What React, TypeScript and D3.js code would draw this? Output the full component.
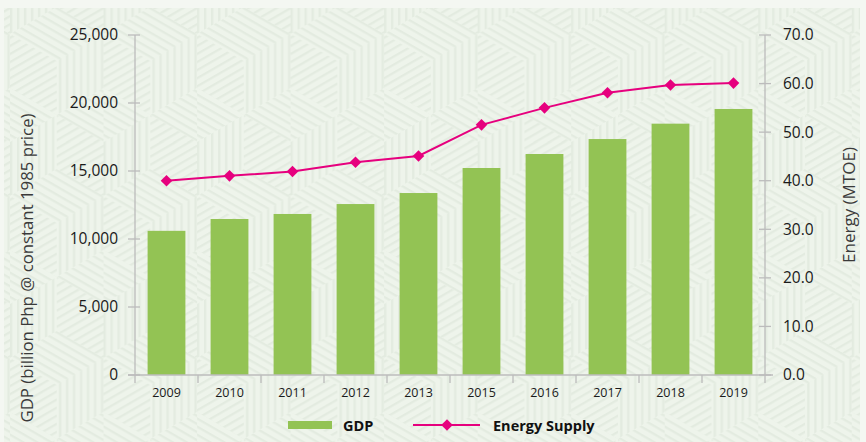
import React, { useRef, useEffect } from "react";
import * as d3 from "d3";

const years = ["2009", "2010", "2011", "2012", "2013", "2015", "2016", "2017", "2018", "2019"];
const gdp = [10600, 11470, 11840, 12570, 13380, 15220, 16250, 17350, 18480, 19560];
const energy = [40.0, 41.0, 41.9, 43.8, 45.1, 51.5, 55.0, 58.1, 59.7, 60.1];
const gdpTicks = [0, 5000, 10000, 15000, 20000, 25000];
const energyTicks = [0, 10, 20, 30, 40, 50, 60, 70];

const W = 866;
const H = 442;
const FONT = "'Open Sans', 'Noto Sans', sans-serif";
const BAR = "#93c354";
const LINE = "#e6007e";
const AXIS = "#bcbcbc";

const App: React.FC = () => {
  const svgRef = useRef<SVGSVGElement | null>(null);

  useEffect(() => {
    if (!svgRef.current) return;
    document.body.style.margin = "0";

    const margin = { left: 135, right: W - 765, top: 35, bottom: H - 375 };
    const x = d3.scaleBand<string>().domain(years).range([margin.left, W - margin.right]).paddingInner(0.4).paddingOuter(0.2);
    const yL = d3.scaleLinear().domain([0, 25000]).range([H - margin.bottom, margin.top]);
    const yR = d3.scaleLinear().domain([0, 70]).range([H - margin.bottom, margin.top]);

    const svg = d3.select(svgRef.current);
    svg.selectAll("*").remove();

    // background + tumbling blocks pattern
    const defs = svg.append("defs");
    const stripe = (id: string, angle: number) => {
      const p = defs.append("pattern").attr("id", id).attr("patternUnits", "userSpaceOnUse")
        .attr("width", 7).attr("height", 7).attr("patternTransform", `rotate(${angle})`);
      p.append("rect").attr("width", 7).attr("height", 7).attr("fill", "#eef4eb");
      p.append("rect").attr("x", 0).attr("width", 2.2).attr("height", 7).attr("fill", "#e3ebe0");
    };
    stripe("st0", 0);
    stripe("st60", 60);
    stripe("st120", 120);

    const s = 54;
    const tw = s * Math.sqrt(3);
    const th = 3 * s;
    const pat = defs.append("pattern").attr("id", "cubes").attr("patternUnits", "userSpaceOnUse")
      .attr("width", tw).attr("height", th).attr("x", 10).attr("y", -20);
    const hex = (cx: number, cy: number) => {
      const hw = tw / 2;
      const top: [number, number][] = [[cx, cy], [cx - hw, cy - s / 2], [cx, cy - s], [cx + hw, cy - s / 2]];
      const left: [number, number][] = [[cx, cy], [cx - hw, cy - s / 2], [cx - hw, cy + s / 2], [cx, cy + s]];
      const right: [number, number][] = [[cx, cy], [cx + hw, cy - s / 2], [cx + hw, cy + s / 2], [cx, cy + s]];
      const line = d3.line();
      pat.append("path").attr("d", line(top)! + "Z").attr("fill", "url(#st120)");
      pat.append("path").attr("d", line(left)! + "Z").attr("fill", "url(#st60)");
      pat.append("path").attr("d", line(right)! + "Z").attr("fill", "url(#st0)");
    };
    for (const [cx, cy] of [[0, 0], [tw, 0], [tw / 2, 1.5 * s], [0, 3 * s], [tw, 3 * s], [tw / 2, -1.5 * s]]) hex(cx, cy);

    svg.append("rect").attr("width", W).attr("height", H).attr("fill", "#f4f7f2");
    svg.append("rect").attr("x", 4).attr("y", 8).attr("width", W - 10).attr("height", H - 8).attr("fill", "#eef4eb");
    svg.append("rect").attr("x", 4).attr("y", 8).attr("width", W - 10).attr("height", H - 8).attr("fill", "url(#cubes)");

    // bars
    svg.append("g").selectAll("rect").data(years).join("rect")
      .attr("x", d => x(d)!)
      .attr("y", (d, i) => yL(gdp[i]))
      .attr("width", x.bandwidth())
      .attr("height", (d, i) => yL(0) - yL(gdp[i]))
      .attr("fill", BAR);

    // axes
    const ax = svg.append("g").attr("stroke", AXIS).attr("stroke-width", 1.3);
    ax.append("line").attr("x1", margin.left).attr("x2", margin.left).attr("y1", yL(25000)).attr("y2", yL(0));
    ax.append("line").attr("x1", W - margin.right).attr("x2", W - margin.right).attr("y1", yR(70)).attr("y2", yR(0));
    ax.append("line").attr("x1", margin.left - 7).attr("x2", W - margin.right + 8).attr("y1", yL(0)).attr("y2", yL(0));
    ax.selectAll(".tl").data(gdpTicks).join("line")
      .attr("x1", margin.left - 7).attr("x2", margin.left + 5).attr("y1", d => yL(d)).attr("y2", d => yL(d));
    ax.selectAll(".tr").data(energyTicks).join("line").attr("class", "tr")
      .attr("x1", W - margin.right - 6).attr("x2", W - margin.right + 6).attr("y1", d => yR(d)).attr("y2", d => yR(d));
    const bounds = [...years.map(d => x(d)! - (x.step() * x.paddingInner()) / 2), W - margin.right];
    ax.selectAll(".tx").data(bounds).join("line").attr("class", "tx")
      .attr("x1", d => d).attr("x2", d => d).attr("y1", yL(0)).attr("y2", yL(0) + 8);

    const fmt = d3.format(",");
    svg.append("g").selectAll("text").data(gdpTicks).join("text")
      .attr("x", 118).attr("y", d => yL(d)).attr("dy", "0.35em").attr("text-anchor", "end")
      .attr("font-family", FONT).attr("font-size", 15.5).attr("fill", "#1a1a1a").text(d => fmt(d));
    svg.append("g").selectAll("text").data(energyTicks).join("text")
      .attr("x", 783).attr("y", d => yR(d)).attr("dy", "0.35em")
      .attr("font-family", FONT).attr("font-size", 15.5).attr("fill", "#1a1a1a").text(d => d.toFixed(1));
    svg.append("g").selectAll("text").data(years).join("text")
      .attr("x", d => x(d)! + x.bandwidth() / 2).attr("y", 397).attr("text-anchor", "middle")
      .attr("font-family", FONT).attr("font-size", 12.5).attr("fill", "#1a1a1a").text(d => d);

    svg.append("text").attr("transform", "translate(33,268) rotate(-90)").attr("text-anchor", "middle")
      .attr("font-family", FONT).attr("font-size", 16.8).attr("fill", "#3a3a3a")
      .text("GDP (billion Php @ constant 1985 price)");
    svg.append("text").attr("transform", "translate(855,205) rotate(-90)").attr("text-anchor", "middle")
      .attr("font-family", FONT).attr("font-size", 17).attr("fill", "#3a3a3a")
      .text("Energy (MTOE)");

    // line
    const cx = (d: string) => x(d)! + x.bandwidth() / 2;
    const line = d3.line<number>().x((d, i) => cx(years[i])).y(d => yR(d));
    svg.append("path").datum(energy).attr("d", line).attr("fill", "none").attr("stroke", LINE).attr("stroke-width", 2);
    const diamond = (px: number, py: number, r: number) => `M${px},${py - r}L${px + r},${py}L${px},${py + r}L${px - r},${py}Z`;
    svg.append("g").selectAll("path").data(energy).join("path")
      .attr("d", (d, i) => diamond(cx(years[i]), yR(d), 5.8)).attr("fill", LINE);

    // legend
    const lg = svg.append("g").attr("font-family", FONT).attr("font-size", 14.5).attr("font-weight", "bold").attr("fill", "#111");
    lg.append("rect").attr("x", 288).attr("y", 421).attr("width", 44).attr("height", 8).attr("fill", BAR);
    lg.append("text").attr("x", 343).attr("y", 431).text("GDP");
    lg.append("line").attr("x1", 413).attr("x2", 480).attr("y1", 425).attr("y2", 425).attr("stroke", LINE).attr("stroke-width", 2);
    lg.append("path").attr("d", diamond(447, 425, 5.8)).attr("fill", LINE);
    lg.append("text").attr("x", 493).attr("y", 431).text("Energy Supply");
  }, []);

  return <svg ref={svgRef} width={W} height={H} style={{ display: "block" }}></svg>;
};

export default App;
